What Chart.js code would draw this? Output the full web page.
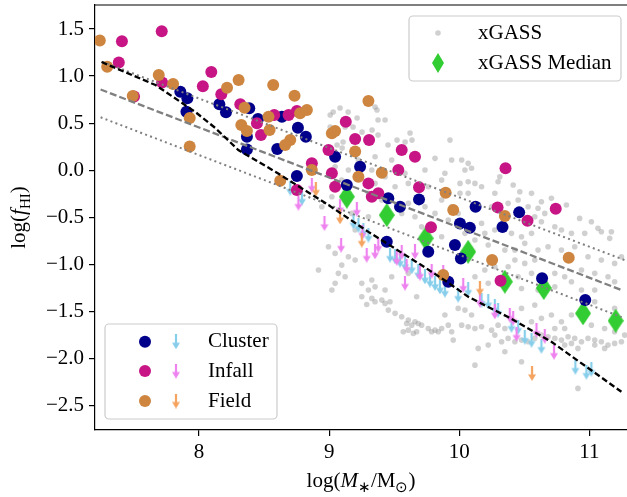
<!DOCTYPE html>
<html><head><meta charset="utf-8">
<script src="https://cdn.jsdelivr.net/npm/chart.js@4/dist/chart.umd.min.js"></script>
<style>html,body{margin:0;padding:0;background:#fff;}canvas{display:block;}</style>
</head><body>
<canvas id="c" width="627" height="497"></canvas>
<script>
// ---------------- DATA ----------------
const xTicks = [8, 9, 10, 11];
const yTicks = [-2.5, -2.0, -1.5, -1.0, -0.5, 0.0, 0.5, 1.0, 1.5];
const topLegendLabels = ["xGASS", "xGASS Median"];
const groupLabels = ["Cluster", "Infall", "Field"];

const clusterDet = [[7.856,0.834],[7.910,0.764],[7.903,0.621],[8.156,0.700],[8.207,0.615],[8.386,0.657],[8.453,0.544],[8.368,0.355],[8.368,0.220],[8.637,0.568],[8.760,0.451],[8.821,0.355],[8.601,0.225],[9.046,0.143],[9.238,0.037],[8.752,-0.062],[9.136,-0.158],[9.455,-0.299],[9.545,-0.388],[9.691,-0.310],[9.443,-0.760],[9.762,-0.867],[9.916,-1.185],[10.126,-0.388],[10.461,-0.448],[10.006,-0.565],[10.082,-0.612],[10.333,-0.604],[9.967,-0.795],[10.013,-0.937],[10.637,-1.149],[10.969,-1.380]];

const infallDet = [[7.713,1.476],[7.407,1.369],[7.383,1.144],[7.716,0.931],[7.500,0.783],[8.029,0.891],[8.094,1.043],[8.171,0.806],[8.317,0.700],[8.445,0.498],[8.476,0.374],[8.578,0.586],[8.688,0.586],[8.752,0.629],[9.128,0.515],[9.200,0.331],[9.307,0.320],[8.995,0.214],[9.558,0.214],[9.660,0.143],[8.867,0.073],[9.021,-0.033],[9.532,0.002],[9.046,-0.176],[9.302,-0.140],[9.328,-0.282],[9.378,-0.246],[9.691,-0.182],[8.752,-0.211],[9.783,-0.607],[10.356,0.020],[10.295,-0.395],[10.742,-0.410],[10.525,-0.537],[10.318,-1.175]];

const fieldDet = [[7.237,1.378],[7.294,1.099],[7.690,1.011],[7.800,0.916],[7.490,0.788],[7.928,0.554],[7.928,0.251],[8.304,0.958],[8.215,0.876],[8.570,0.905],[8.350,0.664],[8.534,0.568],[8.325,0.480],[8.368,0.416],[8.542,0.427],[8.734,0.791],[8.777,0.604],[8.829,0.639],[9.021,0.392],[9.046,0.416],[9.302,0.735],[8.701,0.320],[8.662,0.267],[9.200,0.198],[8.867,0.002],[8.624,-0.112],[9.225,-0.070],[9.405,-0.027],[9.896,-0.240],[9.954,-0.423],[10.351,-0.487],[10.253,-0.955],[10.842,-0.930],[9.877,-1.114]];

const clusterLim = [[8.701,-0.190],[8.791,-0.296],[9.187,-0.548],[9.225,-0.583],[9.263,-0.636],[9.302,-0.689],[9.468,-0.902],[9.507,-0.920],[9.545,-0.955],[9.584,-0.990],[9.635,-1.026],[9.685,-1.079],[9.737,-1.132],[9.775,-1.167],[9.814,-1.202],[9.852,-1.239],[9.890,-1.274],[9.992,-1.327],[10.069,-1.263],[10.172,-1.380],[10.223,-1.398],[10.274,-1.451],[10.299,-1.486],[10.402,-1.646],[10.453,-1.667],[10.504,-1.773],[10.556,-1.805],[10.632,-1.869],[10.893,-2.092],[10.978,-2.145],[11.016,-2.113]];

const infallLim = [[8.764,-0.349],[8.867,-0.158],[9.084,-0.388],[9.213,-0.413],[8.964,-0.565],[9.092,-0.795],[9.256,-0.657],[9.289,-0.902],[9.353,-0.867],[9.378,-0.795],[9.558,-0.870],[9.520,-0.934],[9.660,-0.867],[9.596,-1.019],[9.583,-1.199],[9.698,-1.093],[9.788,-1.072],[9.877,-1.082],[10.031,-1.221],[10.159,-1.380],[10.274,-1.504],[10.389,-1.539],[10.415,-1.571],[10.441,-1.741],[10.594,-1.699],[10.658,-1.763],[10.729,-1.933]];

const fieldLim = [[8.898,-0.200],[9.084,-0.495],[9.251,-0.742],[10.159,-1.252],[10.560,-2.159]];

const xgassMedian = [[9.136,-0.282],[9.443,-0.477],[9.742,-0.724],[10.069,-0.867],[10.351,-1.185],[10.650,-1.252],[10.952,-1.521],[11.203,-1.600]];

const modelCurve = [[7.25,1.149],[7.665,0.905],[7.972,0.618],[8.125,0.448],[8.302,0.214],[8.586,-0.016],[8.995,-0.370],[9.302,-0.655],[9.711,-1.010],[9.916,-1.195],[10.069,-1.345],[10.376,-1.560],[10.709,-1.823],[11.247,-2.354]];
const medianFit = [[7.243,0.857],[11.249,-1.274]];
const fitUpper = [[7.256,1.152],[11.272,-0.955]];
const fitLower = [[7.243,0.562],[11.249,-1.561]];

const xgass = [
[9.008,0.586],[9.031,0.618],[9.084,0.660],[9.146,0.618],[9.215,0.554],[9.353,0.671],[9.368,0.639],[9.430,0.533],[9.376,0.533],[9.008,0.459],[9.123,0.459],[9.184,0.459],[9.253,0.405],[9.330,0.427],[9.376,0.374],[9.453,0.267],[9.522,0.320],[9.584,0.299],[9.622,0.395],[9.637,0.320],[9.929,0.320],[9.061,0.267],[9.107,0.299],[9.100,0.235],
[9.353,0.143],[9.481,0.108],[9.660,0.143],[9.814,0.126],[9.942,0.108],[9.328,0.002],[9.430,-0.070],[9.583,-0.033],[9.737,0.002],[9.890,-0.033],[9.865,-0.105],[9.762,-0.176],[9.609,-0.140],[9.507,-0.176],[9.353,-0.140],[9.302,-0.246],[9.405,-0.317],[9.609,-0.352],[9.737,-0.388],[9.865,-0.317],[9.942,-0.388],[9.814,-0.459],[9.660,-0.495],[9.558,-0.459],[9.916,-0.530],[9.865,-0.707],[9.711,-0.601],[9.097,-0.105],[9.148,0.002],[9.225,0.108],[9.046,0.037],[9.021,-0.282],[8.944,-0.388],[9.174,-0.459],[9.302,-0.495],[9.200,-0.636],[8.995,-0.813],[9.046,-0.884],[9.148,-0.920],[9.200,-0.955],[9.097,-1.008],[9.071,-1.096],[9.123,-1.132],[9.251,-1.202],[9.302,-1.274],[9.353,-1.239],[9.328,-1.167],[9.430,-1.274],[9.046,-1.202],[9.481,-1.132],[9.609,-1.096],[9.021,-1.274],[8.918,-1.061],
[10.019,0.108],[10.069,0.073],[10.044,0.002],[10.095,0.020],[10.006,-0.140],[10.069,-0.123],[10.121,-0.140],[10.172,-0.176],[10.069,-0.246],[10.006,-0.246],[10.312,-0.070],[10.299,-0.123],[10.415,-0.158],[10.274,-0.246],[10.466,-0.229],[10.556,-0.246],[10.632,-0.335],[10.709,-0.299],[10.824,-0.370],[10.926,-0.512],[11.016,-0.548],[11.067,-0.618],[11.093,-0.654],[11.157,-0.724],[11.170,-0.654],[10.965,-0.671],[10.863,-0.671],[10.786,-0.636],[10.735,-0.601],[10.632,-0.548],[10.581,-0.495],[10.658,-0.459],[10.556,-0.671],[10.479,-0.707],[10.402,-0.671],[10.274,-0.636],[10.197,-0.671],[10.121,-0.742],[10.223,-0.795],[10.351,-0.849],[10.428,-0.849],[10.504,-0.777],[10.606,-0.849],[10.683,-0.813],[10.786,-0.849],[10.888,-0.813],[10.990,-0.920],[11.093,-0.955],[11.195,-0.990],[11.247,-0.920],[10.581,-0.955],[10.504,-0.990],[10.428,-0.955],[10.376,-1.026],[10.274,-1.026],[10.197,-1.061],[10.121,-1.132],[10.223,-1.202],[10.453,-1.132],[10.556,-1.096],[10.735,-1.096],[10.811,-1.132],[10.863,-1.185],[10.940,-1.061],[11.042,-1.096],[11.144,-1.132],[11.195,-1.185],[10.479,-1.256],[10.606,-1.274],[10.735,-1.239],[10.940,-1.274],[11.042,-1.274],[9.992,-0.459],[10.044,-0.671],[10.172,-0.565],[10.249,-0.388],[10.376,-0.352],[10.453,-0.317],[10.530,-0.388],[10.606,-0.405],[10.735,-0.423],
[9.251,-1.345],[9.328,-1.362],[9.353,-1.398],[9.405,-1.380],[9.430,-1.415],[9.468,-1.398],[9.289,-1.426],[9.455,-1.486],[9.507,-1.521],[9.558,-1.557],[9.609,-1.592],[9.596,-1.628],[9.635,-1.646],[9.660,-1.610],[9.685,-1.628],[9.711,-1.646],[9.570,-1.717],[9.609,-1.699],[9.647,-1.734],[9.673,-1.717],[9.762,-1.681],[9.788,-1.717],[9.814,-1.699],[9.839,-1.717],[9.865,-1.681],[9.890,-1.539],[9.916,-1.646],[9.942,-1.717],[9.954,-1.805],[9.673,-1.345],
[9.992,-1.468],[10.044,-1.486],[10.095,-1.539],[10.019,-1.646],[10.069,-1.664],[10.121,-1.681],[10.172,-1.664],[10.249,-1.699],[10.299,-1.646],[10.351,-1.681],[10.274,-1.752],[10.326,-1.823],[10.376,-1.787],[10.428,-1.823],[10.479,-1.805],[10.530,-1.823],[10.581,-1.787],[10.632,-1.752],[10.683,-1.770],[10.735,-1.787],[10.786,-1.805],[10.837,-1.770],[10.888,-1.787],[10.940,-1.823],[10.990,-1.787],[11.042,-1.805],[11.093,-1.823],[11.144,-1.858],[11.195,-1.840],[11.247,-1.823],[10.811,-1.858],[10.863,-1.840],[10.913,-1.893],[11.042,-1.858],[11.118,-1.893],[10.146,-1.893],[10.223,-1.858],[10.351,-1.929],[10.121,-2.071],[10.479,-1.468],[10.581,-1.433],[10.709,-1.539],[10.786,-1.610],[10.863,-1.539],[11.016,-1.646],[11.118,-1.681],[11.195,-1.717],[11.272,-1.752],[10.479,-2.035],[10.556,-1.610],[10.632,-1.574],[10.735,-1.681],[10.811,-1.681],[10.913,-2.318],[11.042,-1.398],[11.195,-1.468]
];

// ---------------- STYLE ----------------
const FONT = '"Liberation Serif", "Times New Roman", serif';
Chart.defaults.font.family = FONT;
const C_CLUSTER = '#00008B', C_INFALL = '#C71585', C_FIELD = '#CD853F';
const A_CLUSTER = '#87CEEB', A_INFALL = '#EE82EE', A_FIELD = '#F4A460';
const GREEN = '#32CD32';
const GRAYPT = 'rgba(150,150,150,0.45)';

function makeDiamond(w, h) {
  const c = document.createElement('canvas'); c.width = w; c.height = h;
  const g = c.getContext('2d');
  g.fillStyle = GREEN; g.beginPath();
  g.moveTo(w/2, 0); g.lineTo(w, h/2); g.lineTo(w/2, h); g.lineTo(0, h/2); g.closePath(); g.fill();
  return c;
}
function makeArrow(color) {
  const w = 10, h = 15;
  const c = document.createElement('canvas'); c.width = w; c.height = h;
  const g = c.getContext('2d');
  g.strokeStyle = color; g.fillStyle = color; g.lineWidth = 2.2;
  g.beginPath(); g.moveTo(5, 0); g.lineTo(5, 10); g.stroke();
  g.beginPath(); g.moveTo(1, 8.5); g.lineTo(9, 8.5); g.lineTo(5, 15); g.closePath(); g.fill();
  return c;
}
const diamondImg = makeDiamond(16, 24);
const diamondLegend = makeDiamond(12, 20);
const arrowImgs = [makeArrow(A_CLUSTER), makeArrow(A_INFALL), makeArrow(A_FIELD)];

const pts = arr => arr.map(p => ({x: p[0], y: p[1]}));

function scatterDS(arr, color, radius, order) {
  return {data: pts(arr), backgroundColor: color, borderWidth: 0, pointRadius: radius, pointHoverRadius: radius, order: order};
}
function imgDS(arr, img, order) {
  return {data: pts(arr), pointStyle: img, pointRadius: 8, borderWidth: 0, backgroundColor: 'rgba(0,0,0,0)', order: order};
}
function lineDS(arr, color, width, dash, order) {
  return {data: pts(arr), showLine: true, borderColor: color, borderWidth: width, borderDash: dash, pointRadius: 0, fill: false, order: order, tension: 0};
}

const datasets = [
  lineDS(modelCurve, '#000000', 2.3, [6, 3], 0),
  lineDS(medianFit, '#808080', 2.3, [7, 3], 0),
  lineDS(fitUpper, '#808080', 2, [2, 3.3], 0),
  lineDS(fitLower, '#808080', 2, [2, 3.3], 0),
  scatterDS(fieldDet, C_FIELD, 6, 1),
  scatterDS(infallDet, C_INFALL, 6, 2),
  scatterDS(clusterDet, C_CLUSTER, 6, 3),
  imgDS(fieldLim, arrowImgs[2], 4),
  imgDS(infallLim, arrowImgs[1], 5),
  imgDS(clusterLim, arrowImgs[0], 6),
  imgDS(xgassMedian, diamondImg, 7),
  scatterDS(xgass, GRAYPT, 2.8, 8)
];

function drawRich(ctx, parts, size, cx, cy, rotate) {
  ctx.save();
  ctx.translate(cx, cy);
  if (rotate) ctx.rotate(-Math.PI / 2);
  ctx.fillStyle = '#000'; ctx.textBaseline = 'alphabetic'; ctx.textAlign = 'left';
  const fontOf = k => k === 'i' ? `italic ${size}px ${FONT}` : (k === 'sub' ? `${Math.round(size*0.7)}px ${FONT}` : `${size}px ${FONT}`);
  let total = 0;
  parts.forEach(p => { ctx.font = fontOf(p[1]); total += ctx.measureText(p[0]).width; });
  let x = -total / 2;
  parts.forEach(p => {
    ctx.font = fontOf(p[1]);
    ctx.fillText(p[0], x, p[1] === 'sub' ? size * 0.25 : 0);
    x += ctx.measureText(p[0]).width;
  });
  ctx.restore();
}
function roundBox(ctx, x, y, w, h, r) {
  ctx.save();
  ctx.beginPath();
  ctx.moveTo(x + r, y); ctx.lineTo(x + w - r, y); ctx.arcTo(x + w, y, x + w, y + r, r);
  ctx.lineTo(x + w, y + h - r); ctx.arcTo(x + w, y + h, x + w - r, y + h, r);
  ctx.lineTo(x + r, y + h); ctx.arcTo(x, y + h, x, y + h - r, r);
  ctx.lineTo(x, y + r); ctx.arcTo(x, y, x + r, y, r); ctx.closePath();
  ctx.fillStyle = 'rgba(255,255,255,0.8)'; ctx.fill();
  ctx.strokeStyle = '#cccccc'; ctx.lineWidth = 1.2; ctx.stroke();
  ctx.restore();
}

const decor = {
  id: 'decor',
  afterDraw(chart) {
    const ctx = chart.ctx, a = chart.chartArea;
    ctx.save(); ctx.strokeStyle = '#000'; ctx.lineWidth = 1.2;
    ctx.beginPath(); ctx.moveTo(a.left, a.top); ctx.lineTo(a.right, a.top); ctx.stroke(); ctx.restore();
    drawRich(ctx, [["log(", "n"], ["M", "i"], ["\u2217", "sub"], ["/M", "n"], ["\u2299", "sub"], [")", "n"]], 21, (a.left + a.right) / 2, 487, false);
    drawRich(ctx, [["log(", "n"], ["f", "i"], ["HI", "sub"], [")", "n"]], 21, 25, (a.top + a.bottom) / 2, true);
    roundBox(ctx, 409, 16, 212, 65, 4);
    ctx.save();
    ctx.fillStyle = GRAYPT; ctx.beginPath(); ctx.arc(438, 33, 2.8, 0, Math.PI * 2); ctx.fill();
    ctx.drawImage(diamondLegend, 438 - 6, 63 - 10);
    ctx.fillStyle = '#000'; ctx.font = `21px ${FONT}`; ctx.textBaseline = 'middle'; ctx.textAlign = 'left';
    ctx.fillText(topLegendLabels[0], 478, 33);
    ctx.fillText(topLegendLabels[1], 478, 63);
    ctx.restore();
    roundBox(ctx, 105, 324, 172, 95, 4);
    const rows = [341.7, 371, 401];
    const cols = [C_CLUSTER, C_INFALL, C_FIELD];
    ctx.save();
    rows.forEach((ry, i) => {
      ctx.fillStyle = cols[i]; ctx.beginPath(); ctx.arc(145, ry, 6, 0, Math.PI * 2); ctx.fill();
      ctx.drawImage(arrowImgs[i], 176 - 5, ry - 7.5);
      ctx.fillStyle = '#000'; ctx.font = `21px ${FONT}`; ctx.textBaseline = 'middle'; ctx.textAlign = 'left';
      ctx.fillText(groupLabels[i], 208, ry);
    });
    ctx.restore();
  }
};

const fmtY = v => (v < 0 ? '\u2212' : '') + Math.abs(v).toFixed(1);

new Chart(document.getElementById('c'), {
  type: 'scatter',
  data: {datasets: datasets},
  options: {
    responsive: false, animation: false, events: [],
    layout: {autoPadding: false, padding: {top: 5, right: 0, left: 0, bottom: 0}},
    plugins: {legend: {display: false}, tooltip: {enabled: false}, title: {display: false}},
    scales: {
      x: {
        type: 'linear', min: 7.2, max: 11.29,
        afterBuildTicks: s => { s.ticks = xTicks.map(v => ({value: v})); },
        afterFit: s => { s.height = 67; s.paddingLeft = 0; s.paddingRight = 0; },
        ticks: {callback: v => String(v), font: {family: FONT, size: 21}, color: '#000', padding: 4, maxRotation: 0},
        grid: {display: true, drawOnChartArea: false, drawTicks: true, tickLength: 6, color: '#000', lineWidth: 1.2},
        border: {display: true, color: '#000', width: 1.2}
      },
      y: {
        type: 'linear', min: -2.76, max: 1.755,
        afterBuildTicks: s => { s.ticks = yTicks.map(v => ({value: v})); },
        afterFit: s => { s.width = 95; s.paddingTop = 0; s.paddingBottom = 0; },
        ticks: {callback: v => fmtY(v), font: {family: FONT, size: 21}, color: '#000', padding: 5},
        grid: {display: true, drawOnChartArea: false, drawTicks: true, tickLength: 6, color: '#000', lineWidth: 1.2},
        border: {display: true, color: '#000', width: 1.2}
      }
    }
  },
  plugins: [decor]
});
</script>
</body></html>
